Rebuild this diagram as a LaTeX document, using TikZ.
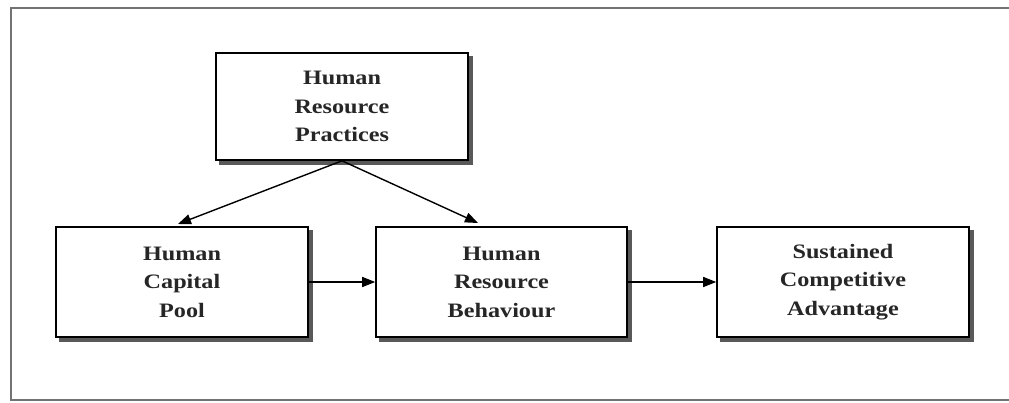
\documentclass[tikz,border=0pt]{standalone}
\usepackage{fontspec}
\setmainfont{Liberation Serif}[FakeStretch=1.18]
\usetikzlibrary{arrows.meta,backgrounds}
\begin{document}
\begin{tikzpicture}[x=1pt,y=-1pt,
  box/.style={draw=black,line width=1.6pt,fill=white,rectangle,
    minimum width=252pt,minimum height=110pt,inner sep=0pt,
    align=center,font=\fontsize{20.5}{28.5}\selectfont\bfseries,text=black!85},
  link/.style={line width=1.4pt,-{Triangle[length=13pt,width=10pt]}},
  frame/.style={draw=black!55,line width=2pt}]
\useasboundingbox (0,0) rectangle (1009,402);
\draw[frame] (1009,8) -- (11,8) -- (11,400) -- (1009,400);

\node[box,minimum height=107pt] (hrp) at (342,106.5) {Human\\Resource\\Practices};
\node[box] (hcp) at (182,282) {Human\\Capital\\Pool};
\node[box,minimum width=251pt] (hrb) at (501.5,282) {Human\\Resource\\Behaviour};
\node[box] (sca) at (843,282) {Sustained\\Competitive\\Advantage};

\begin{scope}[on background layer]
  \foreach \n in {hrp,hcp,hrb,sca}
    \fill[black!65] ([shift={(4,4)}]\n.north west) rectangle ([shift={(4,4)}]\n.south east);
\end{scope}

\coordinate (hcptip) at (178,224);
\coordinate (hrbtip) at (478,223);
\draw[link] (hrp.south) -- (hcptip);
\draw[link] (hrp.south) -- (hrbtip);
\draw[link] (hcp.east) -- (hrb.west);
\draw[link] (hrb.east) -- (sca.west);
\end{tikzpicture}
\end{document}
